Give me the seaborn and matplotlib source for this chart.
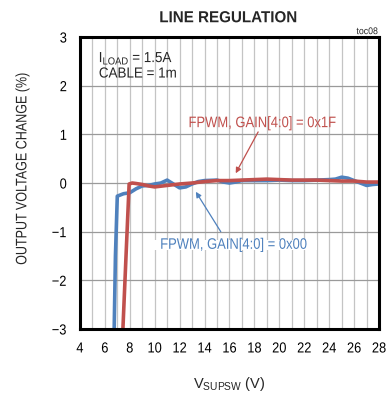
import matplotlib
matplotlib.use("Agg")
import matplotlib.pyplot as plt
from matplotlib.patheffects import AbstractPathEffect
from matplotlib.transforms import Affine2D
import seaborn as sns
import pandas as pd

# Output voltage change vs. supply voltage, two gain settings
blue_v = [6.75, 6.85, 7.0, 7.5, 8.0, 8.5, 9.0, 9.5, 10.0, 10.5, 11.0, 11.5, 12.0, 12.5,
          13.0, 13.5, 14.0, 15.0, 15.5, 16.0, 16.5, 17.0, 18.0, 19.0, 20.0, 21.0, 22.0,
          23.0, 24.0, 24.5, 25.0, 25.5, 26.0, 26.5, 27.0, 27.5, 28.0]
blue_pct = [-3.0, -1.5, -0.27, -0.22, -0.2, -0.12, -0.06, -0.05, -0.02, 0.0, 0.06, -0.02,
            -0.1, -0.08, -0.02, 0.03, 0.05, 0.06, 0.02, 0.0, 0.02, 0.05, 0.05, 0.05, 0.06,
            0.05, 0.05, 0.06, 0.07, 0.08, 0.12, 0.1, 0.05, 0.0, -0.05, -0.03, -0.02]

red_v = [7.45, 7.7, 7.95, 8.2, 8.5, 9.0, 9.5, 10.0, 11.0, 12.0, 13.0, 14.0, 15.0, 16.0,
         17.0, 18.0, 19.0, 20.0, 21.0, 22.0, 23.0, 24.0, 25.0, 26.0, 27.0, 28.0]
red_pct = [-3.0, -1.5, -0.02, 0.0, -0.01, -0.03, -0.06, -0.08, -0.05, -0.02, 0.0, 0.03,
           0.05, 0.05, 0.06, 0.07, 0.08, 0.07, 0.06, 0.06, 0.06, 0.05, 0.04, 0.04, 0.02, 0.02]

x_ticks = [4, 6, 8, 10, 12, 14, 16, 18, 20, 22, 24, 26, 28]
y_ticks = [-3, -2, -1, 0, 1, 2, 3]

label_blue = "FPWM, GAIN[4:0] = 0x00"
label_red = "FPWM, GAIN[4:0] = 0x1F"

BLUE = "#4f81bd"
RED = "#c0504d"


class Condense(AbstractPathEffect):
    """Squeeze glyph outlines horizontally about their own centre."""

    def __init__(self, sx):
        super().__init__()
        self.sx = sx

    def draw_path(self, renderer, gc, tpath, affine, rgbFace=None):
        ext = tpath.get_extents()
        cx = 0.5 * (ext.x0 + ext.x1)
        squeeze = Affine2D().translate(-cx, 0).scale(self.sx, 1).translate(cx, 0)
        renderer.draw_path(gc, tpath, squeeze + affine, rgbFace)


narrow = [Condense(0.85)]

sns.set_theme(style="white")
plt.rcParams["font.family"] = ["Liberation Sans", "DejaVu Sans"]

fig = plt.figure(figsize=(3.86, 3.94), dpi=100)
ax = fig.add_axes([0.207, 0.165, 0.775, 0.741])

df_blue = pd.DataFrame({"v": blue_v, "pct": blue_pct})
df_red = pd.DataFrame({"v": red_v, "pct": red_pct})

ax.set_xlim(4, 28)
ax.set_ylim(-3, 3)
ax.set_xticks(x_ticks)
ax.set_yticks(y_ticks)
ax.set_xticks(range(4, 29), minor=True)
ax.grid(which="minor", axis="x", color="#c4c4c4", lw=0.9)
ax.grid(which="major", axis="x", color="#c4c4c4", lw=0.9)
ax.grid(which="major", axis="y", color="#9a9a9a", lw=0.9)
ax.set_axisbelow(True)

sns.lineplot(data=df_blue, x="v", y="pct", ax=ax, color=BLUE, lw=2.6, sort=False,
             estimator=None)
sns.lineplot(data=df_red, x="v", y="pct", ax=ax, color=RED, lw=2.6, sort=False,
             estimator=None)

for s in ax.spines.values():
    s.set_color("black")
    s.set_linewidth(2.2)

ax.tick_params(axis="both", which="both", length=0, labelsize=10.5, colors="black")
ax.tick_params(axis="x", pad=9)
ax.tick_params(axis="y", pad=9)
for lab in ax.get_xticklabels() + ax.get_yticklabels():
    lab.set_path_effects([Condense(0.88)])

ax.set_xlabel("V$_{\\mathregular{SUPSW}}$ (V)", fontsize=10.5, labelpad=14)
ax.set_ylabel("")
fig.text(0.058, 0.571, "OUTPUT VOLTAGE CHANGE (%)", fontsize=11, rotation=90,
         ha="center", va="center", path_effects=[Condense(0.82)])

# arrows first, then the labels on top
ax.annotate("", xy=(16.5, 0.2), xytext=(18.3, 1.05),
            arrowprops=dict(arrowstyle="-|>", color=RED, lw=0.9, shrinkA=0, shrinkB=0,
                            mutation_scale=8))
ax.annotate("", xy=(13.3, -0.18), xytext=(15.3, -1.0),
            arrowprops=dict(arrowstyle="-|>", color=BLUE, lw=0.9, shrinkA=0, shrinkB=0,
                            mutation_scale=8))
ax.text(18.6, 1.23, label_red, color=RED, fontsize=11, ha="center", va="center",
        path_effects=narrow)
ax.text(16.3, -1.27, label_blue, color=BLUE, fontsize=11, ha="center", va="center",
        path_effects=narrow,
        bbox=dict(boxstyle="square,pad=-0.15", fc="white", ec="none"))

ax.text(5.25, 2.56, "I$_{\\mathregular{LOAD}}$ = 1.5A", fontsize=10.5, ha="left",
        va="center", path_effects=[Condense(0.92)])
ax.text(5.25, 2.25, "CABLE = 1m", fontsize=10.5, ha="left", va="center",
        path_effects=[Condense(0.92)])

fig.text(0.592, 0.955, "LINE REGULATION", fontsize=11.5, fontweight="bold",
         ha="center", va="center", path_effects=[Condense(0.95)])
fig.text(0.982, 0.921, "toc08", fontsize=7, ha="right", va="center",
         path_effects=[Condense(0.9)])

fig.savefig("out.png", dpi=100)
